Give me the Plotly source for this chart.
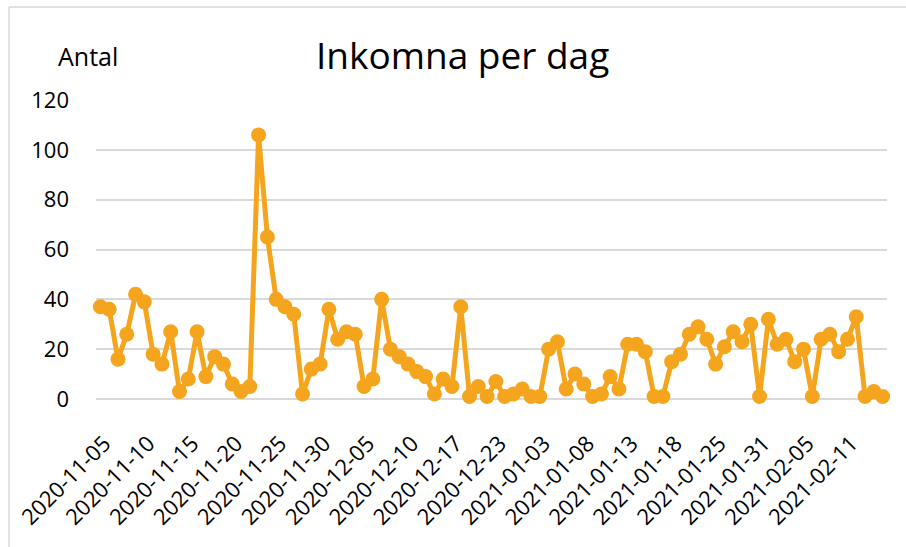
import plotly.graph_objects as go

# ---- data ----
dates = [
    "2020-11-05", "2020-11-06", "2020-11-07", "2020-11-08", "2020-11-09",
    "2020-11-10", "2020-11-11", "2020-11-12", "2020-11-13", "2020-11-14",
    "2020-11-15", "2020-11-16", "2020-11-17", "2020-11-18", "2020-11-19",
    "2020-11-20", "2020-11-21", "2020-11-22", "2020-11-23", "2020-11-24",
    "2020-11-25", "2020-11-26", "2020-11-27", "2020-11-28", "2020-11-29",
    "2020-11-30", "2020-12-01", "2020-12-02", "2020-12-03", "2020-12-04",
    "2020-12-05", "2020-12-06", "2020-12-07", "2020-12-08", "2020-12-09",
    "2020-12-10", "2020-12-11", "2020-12-14", "2020-12-15", "2020-12-16",
    "2020-12-17", "2020-12-18", "2020-12-19", "2020-12-21", "2020-12-22",
    "2020-12-23", "2020-12-28", "2020-12-29", "2020-12-30", "2020-12-31",
    "2021-01-03", "2021-01-04", "2021-01-05", "2021-01-06", "2021-01-07",
    "2021-01-08", "2021-01-09", "2021-01-10", "2021-01-11", "2021-01-12",
    "2021-01-13", "2021-01-14", "2021-01-15", "2021-01-16", "2021-01-17",
    "2021-01-18", "2021-01-19", "2021-01-20", "2021-01-21", "2021-01-22",
    "2021-01-25", "2021-01-26", "2021-01-27", "2021-01-28", "2021-01-29",
    "2021-01-31", "2021-02-01", "2021-02-02", "2021-02-03", "2021-02-04",
    "2021-02-05", "2021-02-06", "2021-02-08", "2021-02-09", "2021-02-10",
    "2021-02-11", "2021-02-12", "2021-02-13", "2021-02-14", "2021-02-15",
]

inkomna = [
    37, 36, 16, 26, 42, 39, 18, 14, 27, 3,
    8, 27, 9, 17, 14, 6, 3, 5, 106, 65,
    40, 37, 34, 2, 12, 14, 36, 24, 27, 26,
    5, 8, 40, 20, 17, 14, 11, 9, 2, 8,
    5, 37, 1, 5, 1, 7, 1, 2, 4, 1,
    1, 20, 23, 4, 10, 6, 1, 2, 9, 4,
    22, 22, 19, 1, 1, 15, 18, 26, 29, 24,
    14, 21, 27, 23, 30, 1, 32, 22, 24, 15,
    20, 1, 24, 26, 19, 24, 33, 1, 3, 1,
]

tick_labels = dates[::5]
y_ticks = [0, 20, 40, 60, 80, 100, 120]

title_text = "Inkomna per dag"
y_label = "Antal"

# ---- layout geometry ----
W, H = 906, 547
L, R, T, B = 96, 19, 100, 148
pw, ph = W - L - R, H - T - B


def px(x):
    return (x - L) / pw


def py(y):
    return (H - B - y) / ph


ORANGE = "#F5A51D"
GRID = "#D9D9D9"
FONT = "Open Sans"

fig = go.Figure()
fig.add_trace(go.Scatter(
    x=dates, y=inkomna, mode="lines+markers",
    line=dict(color=ORANGE, width=5),
    marker=dict(color=ORANGE, size=15),
    cliponaxis=False, showlegend=False,
))

fig.update_layout(
    width=W, height=H,
    margin=dict(l=L, r=R, t=T, b=B, autoexpand=False),
    paper_bgcolor="white", plot_bgcolor="white",
    font=dict(family=FONT, color="#000000", size=22),
    xaxis=dict(
        type="category", range=[-0.5, len(dates) - 0.5],
        tickmode="array", tickvals=tick_labels, ticktext=tick_labels,
        tickangle=-45, showgrid=False, showline=False, zeroline=False,
        ticks="outside", ticklen=22, tickcolor="rgba(0,0,0,0)",
        ticklabelshift=4,
        tickfont=dict(size=22, family=FONT),
    ),
    yaxis=dict(
        range=[0, 120], tickvals=y_ticks, showgrid=True, gridcolor=GRID,
        gridwidth=1.5, zeroline=True, zerolinecolor=GRID, zerolinewidth=1.5,
        showline=False, ticks="", ticklabelstandoff=26,
        tickfont=dict(size=22, family=FONT),
    ),
    shapes=[
        dict(type="line", xref="paper", yref="paper",
             x0=px(9), x1=px(W + 5), y0=py(7), y1=py(7),
             line=dict(color=GRID, width=1.5)),
        dict(type="line", xref="paper", yref="paper",
             x0=px(9), x1=px(9), y0=py(7), y1=py(H + 5),
             line=dict(color=GRID, width=1.5)),
    ],
    annotations=[
        dict(text=title_text, xref="paper", yref="paper",
             x=px(462), y=py(54), xanchor="center", yanchor="middle",
             showarrow=False, font=dict(size=37, family=FONT, color="#000000")),
        dict(text=y_label, xref="paper", yref="paper",
             x=px(56), y=py(56), xanchor="left", yanchor="middle",
             showarrow=False, font=dict(size=25, family=FONT, color="#000000")),
    ],
)

fig.write_html(
    "out.html",
    config={"displayModeBar": False},
    post_script="document.body.style.margin='0';document.body.style.padding='0';",
)
